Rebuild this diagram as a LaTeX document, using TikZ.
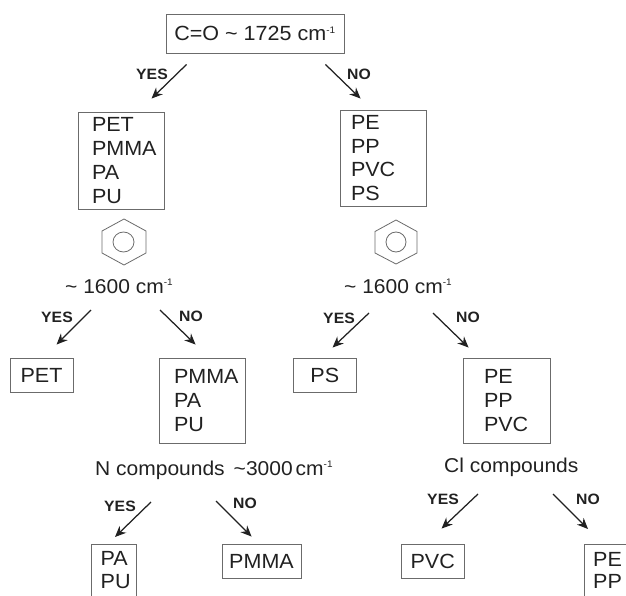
\documentclass[tikz,border=0pt]{standalone}
\usepackage{fontspec}
\setmainfont[FakeStretch=1.05]{Liberation Sans}
\usetikzlibrary{arrows.meta}
\definecolor{ink}{gray}{0.13}
\definecolor{edge}{gray}{0.42}
\newcommand{\sq}{\textsuperscript{\fontsize{9.5}{10}\selectfont -1}}
\newcommand{\dn}[2]{\raisebox{-#1pt}{#2}}
\tikzset{
  x=1pt,y=-1pt,
  every node/.style={text=ink},
  big/.style={font=\fontsize{20.5}{23.7}\selectfont},
  mid/.style={font=\fontsize{20}{23}\selectfont},
  small/.style={font=\fontsize{15}{16}\bfseries\selectfont},
  lbl/.style={mid,inner sep=0pt,anchor=base west},
  tag/.style={small,inner sep=0pt},
  box/.style={draw=edge,line width=0.9pt,big,align=left,inner ysep=0pt},
  cut/.style={big,align=left,inner ysep=0pt,anchor=north west,font=\fontsize{20.5}{22.5}\selectfont},
  side/.style={draw=edge,line width=0.9pt},
  arr/.style={draw=ink,line width=1.25pt,-{Stealth[length=11pt,width=9.5pt]}},
  ring/.style={draw=edge,line width=0.8pt}
}
\begin{document}
\begin{tikzpicture}
\useasboundingbox (0,0) rectangle (626,596);
\node[box,inner xsep=0pt,minimum width=178pt,minimum height=39pt] (top) at (255,33.5) {C=O \textasciitilde{} 1725 cm\sq};
\node[box,inner xsep=14pt,text width=58pt,minimum height=97pt] (a) at (121,160.5) {PET\\PMMA\\PA\\PU};
\node[box,inner xsep=11pt,text width=64.5pt,minimum height=96pt] (b) at (383.25,158) {\dn{3}{PE}\\\dn{3}{PP}\\\dn{3}{PVC}\\\dn{3}{PS}};
\node[lbl] (c1) at (65,293) {\textasciitilde{} 1600 cm\sq};
\node[lbl] (c2) at (344,293) {\textasciitilde{} 1600 cm\sq};
\node[box,inner xsep=0pt,minimum width=63pt,minimum height=34pt] (pet) at (41.5,375) {PET};
\node[box,inner xsep=15pt,text width=56.5pt,minimum height=85pt] (pm) at (202.25,400.5) {\dn{1.5}{PMMA}\\\dn{1.5}{PA}\\\dn{1.5}{PU}};
\node[box,inner xsep=0pt,minimum width=63.5pt,minimum height=34pt] (ps) at (324.75,375) {PS};
\node[box,inner xsep=21pt,text width=45pt,minimum height=85pt] (pe) at (506.5,400.5) {PE\\PP\\PVC};
\node[lbl] (n) at (95,475) {N compounds\hspace{9pt}\textasciitilde 3000\hspace{3pt}cm\sq};
\node[lbl] (cl) at (444,472) {Cl compounds};
\node[cut,inner xsep=9.5pt,text width=26pt,minimum height=52pt] (papu) at (91,544) {PA\\PU};
\node[box,inner xsep=0pt,minimum width=79pt,minimum height=34pt] (pm2) at (261.5,561) {\dn{1}{PMMA}};
\node[box,inner xsep=0pt,minimum width=63.5pt,minimum height=34pt] (pvc) at (432.75,561) {\dn{2}{PVC}};
\node[cut,inner xsep=3pt,text width=30pt,minimum height=52pt] (pepp) at (590,544) {PE\\PP};

\draw[side] (papu.south west) -- (papu.north west) -- (papu.north east) -- (papu.south east);
\draw[side] ([xshift=-6]pepp.south west) -- ([xshift=-6]pepp.north west) -- (pepp.north east);

\node[tag] (y1) at (152,74) {YES};
\node[tag] (n1) at (359,74) {NO};
\node[tag] (y2) at (57,317) {YES};
\node[tag] (n2) at (191,316) {NO};
\node[tag] (y3) at (339,318) {YES};
\node[tag] (n3) at (468,317) {NO};
\node[tag] (y4) at (120,506) {YES};
\node[tag] (n4) at (245,503) {NO};
\node[tag] (y5) at (443,499) {YES};
\node[tag] (n5) at (588,499) {NO};

\draw[arr] ([shift={(21,11)}]top.south west) -- ([shift={(74,-13)}]a.north west);
\draw[arr] ([shift={(-19,11)}]top.south east) -- ([shift={(21,-11)}]b.north west);
\draw[arr] ([shift={(26,17)}]c1.base west) -- ([shift={(47,-13)}]pet.north west);
\draw[arr] ([shift={(95,17)}]c1.base west) -- ([shift={(37,-13)}]pm.north west);
\draw[arr] ([shift={(25,20)}]c2.base west) -- ([shift={(40,-10)}]ps.north west);
\draw[arr] ([shift={(89,20)}]c2.base west) -- ([shift={(6,-10)}]pe.north west);
\draw[arr] ([shift={(56,27)}]n.base west) -- ([shift={(24,-7)}]papu.north west);
\draw[arr] ([shift={(121,26)}]n.base west) -- ([shift={(30,-7)}]pm2.north west);
\draw[arr] ([shift={(34,22)}]cl.base west) -- ([shift={(41,-15)}]pvc.north west);
\draw[arr] ([shift={(109,22)}]cl.base west) -- ([shift={(-2,-15)}]pepp.north west);

\draw[ring] (124,219)--(146,231)--(146,253)--(124,265)--(102,253)--(102,231)--cycle;
\draw[ring] (123.5,242) ellipse (10.5 and 10);
\draw[ring] (396,220)--(417,231.5)--(417,253)--(396,264)--(375,253)--(375,231.5)--cycle;
\draw[ring] (396,242) ellipse (10 and 10);
\end{tikzpicture}
\end{document}
